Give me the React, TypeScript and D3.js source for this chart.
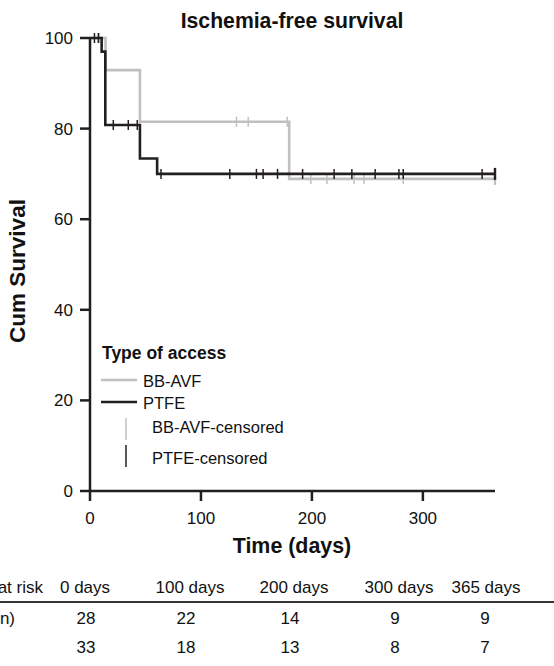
import React from 'react';
import * as d3 from 'd3';

// Kaplan-Meier steps
const bbTimes = [0, 14, 45, 179.5, 365];
const bbSurv = [100, 92.9, 81.5, 68.9, 68.9];
const ptfeTimes = [0, 10.5, 13.8, 45, 60.5, 365];
const ptfeSurv = [100, 97.0, 80.8, 73.4, 70.0, 70.0];

// censored observations (days)
const bbCensored = [8.5, 132, 142.6, 177.7, 199, 213.5, 238, 247, 282.3, 365];
const ptfeCensored = [4, 7.5, 21, 34.5, 42.6, 64, 126, 150, 156, 169, 191.6, 220, 236, 257, 278.4, 282.3, 353.4, 365];

const xTicks = [0, 100, 200, 300];
const yTicks = [0, 20, 40, 60, 80, 100];

const riskHeaders = ['0 days', '100 days', '200 days', '300 days', '365 days'];
const riskHeaderX = [85, 190, 294, 399, 486];
const riskCountX = [86, 186, 290, 395, 485];
const bbAtRisk = [28, 22, 14, 9, 9];
const ptfeAtRisk = [33, 18, 13, 8, 7];

const BLACK = '#231f20';
const GRAY = '#c0c0c2';
const FONT = '"Liberation Sans", Arial, sans-serif';

const App = () => {
    const width = 554;
    const height = 666;

    const x = d3.scaleLinear().domain([0, 365]).range([90, 495]);
    const y = d3.scaleLinear().domain([0, 100]).range([491, 38]);

    const stepLine = d3.line<[number, number]>()
        .x(d => x(d[0]))
        .y(d => y(d[1]))
        .curve(d3.curveStepAfter);

    const survAt = (times: number[], surv: number[], t: number) => {
        let s = surv[0];
        for (let i = 0; i < times.length; i++) {
            if (times[i] <= t) s = surv[i];
        }
        return s;
    };

    const bbPts = bbTimes.map((t, i) => [t, bbSurv[i]] as [number, number]);
    const ptfePts = ptfeTimes.map((t, i) => [t, ptfeSurv[i]] as [number, number]);

    return (
        <svg width={width} height={height} style={{ position: 'absolute', left: 0, top: 0 }}
            fontFamily={FONT}>
            <rect width={width} height={height} fill="#fff" />

            {/* title */}
            <text x={292} y={28} textAnchor="middle" fontSize={21.2} fontWeight="bold" fill="#111">
                Ischemia-free survival
            </text>

            {/* curves */}
            <path d={stepLine(bbPts) || ''} fill="none" stroke={GRAY} strokeWidth={2.6} />
            {bbCensored.map((t, i) => {
                const s = survAt(bbTimes, bbSurv, t);
                const h = t >= 365 ? 6 : 5;
                return <line key={'bc' + i} x1={x(t)} x2={x(t)} y1={y(s) - h} y2={y(s) + h}
                    stroke={GRAY} strokeWidth={t >= 365 ? 2.2 : 1.5} />;
            })}
            <path d={stepLine(ptfePts) || ''} fill="none" stroke={BLACK} strokeWidth={2.6} />
            {ptfeCensored.map((t, i) => {
                const s = survAt(ptfeTimes, ptfeSurv, t);
                const h = t >= 365 ? 6 : 5;
                return <line key={'pc' + i} x1={x(t)} x2={x(t)} y1={y(s) - h} y2={y(s) + h}
                    stroke={BLACK} strokeWidth={t >= 365 ? 2.4 : 1.5} />;
            })}

            {/* axes */}
            <line x1={x(0)} x2={x(365)} y1={y(0)} y2={y(0)} stroke={BLACK} strokeWidth={2.5} />
            <line x1={x(0)} x2={x(0)} y1={y(100)} y2={y(0)} stroke={BLACK} strokeWidth={2.5} />
            {xTicks.map(t => (
                <g key={'xt' + t}>
                    <line x1={x(t)} x2={x(t)} y1={y(0)} y2={y(0) + 10} stroke={BLACK} strokeWidth={2.5} />
                    <text x={x(t)} y={524} textAnchor="middle" fontSize={17} fill="#111">{t}</text>
                </g>
            ))}
            {yTicks.map(v => (
                <g key={'yt' + v}>
                    <line x1={x(0) - 10} x2={x(0)} y1={y(v)} y2={y(v)} stroke={BLACK} strokeWidth={2.5} />
                    <text x={73} y={y(v) + 6} textAnchor="end" fontSize={17} fill="#111">{v}</text>
                </g>
            ))}
            <text x={292} y={553} textAnchor="middle" fontSize={21.4} fontWeight="bold" fill="#111">
                Time (days)
            </text>
            <text transform="translate(25, 271) rotate(-90)" textAnchor="middle" fontSize={22.5}
                fontWeight="bold" fill="#111">
                Cum Survival
            </text>

            {/* legend */}
            <text x={102} y={359} fontSize={17.5} fontWeight="bold" fill="#111">Type of access</text>
            <line x1={101} x2={137} y1={380} y2={380} stroke={GRAY} strokeWidth={2.6} />
            <text x={143} y={387} fontSize={16.5} fill="#111">BB-AVF</text>
            <line x1={101} x2={137} y1={402} y2={402} stroke={BLACK} strokeWidth={2.6} />
            <text x={143} y={409} fontSize={16.5} fill="#111">PTFE</text>
            <line x1={126} x2={126} y1={418} y2={440} stroke={GRAY} strokeWidth={1.5} />
            <text x={152} y={433} fontSize={16.5} fill="#111">BB-AVF-censored</text>
            <line x1={126} x2={126} y1={445} y2={467} stroke={BLACK} strokeWidth={1.5} />
            <text x={152} y={464} fontSize={16.5} fill="#111">PTFE-censored</text>

            {/* number at risk table */}
            <text x={43} y={593} textAnchor="end" fontSize={17} fill="#111">Number at risk</text>
            {riskHeaders.map((h, i) => (
                <text key={'rh' + i} x={riskHeaderX[i]} y={593} textAnchor="middle" fontSize={17} fill="#111">{h}</text>
            ))}
            <line x1={0} x2={width} y1={602} y2={602} stroke="#333" strokeWidth={2} />
            <text x={15} y={624} textAnchor="end" fontSize={17} fill="#111">BB-AVF (n)</text>
            {bbAtRisk.map((n, i) => (
                <text key={'br' + i} x={riskCountX[i]} y={624} textAnchor="middle" fontSize={17} fill="#111">{n}</text>
            ))}
            {ptfeAtRisk.map((n, i) => (
                <text key={'pr' + i} x={riskCountX[i]} y={653} textAnchor="middle" fontSize={17} fill="#111">{n}</text>
            ))}
        </svg>
    );
};

export default App;
